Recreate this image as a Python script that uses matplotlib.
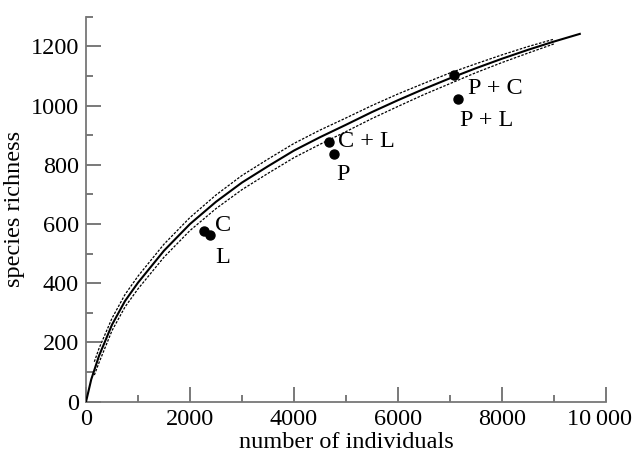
import numpy as np
import matplotlib
matplotlib.use('Agg')
import matplotlib.pyplot as plt
import matplotlib.ticker as ticker
import matplotlib.transforms as mtransforms

plt.rcParams['font.family'] = ['Liberation Serif', 'DejaVu Serif']

# rarefaction curve
n_ind = [0, 100, 250, 500, 750, 1000, 1500, 2000, 2500, 3000, 3500, 4000, 4500,
         5000, 5500, 6000, 6500, 7000, 7500, 8000, 8500, 9000, 9500]
richness = [0, 75, 155, 260, 340, 402, 510, 600, 675, 740, 795, 848, 893,
            935, 978, 1018, 1056, 1092, 1126, 1158, 1188, 1216, 1242]

# confidence band (dotted)
ci_x = [160, 250, 500, 750, 1000, 1500, 2000, 2500, 3000, 3500, 4000, 4500,
        5000, 5500, 6000, 6500, 7000, 7500, 8000, 8500, 9000]
ci_upper = [135, 180, 282, 362, 424, 532, 622, 698, 764, 819, 872, 917,
            958, 1000, 1039, 1075, 1110, 1141, 1171, 1199, 1224]
ci_lower = [90, 132, 240, 320, 381, 488, 578, 652, 716, 771, 824, 869,
            912, 956, 997, 1037, 1074, 1111, 1145, 1177, 1208]

# treatment combinations
labels = ['C', 'L', 'C + L', 'P', 'P + C', 'P + L']
pts_x = [2270, 2385, 4680, 4770, 7080, 7150]
pts_y = [575, 563, 878, 836, 1104, 1023]
# label offsets (points)
lab_dx = [8, 4, 6, 2, 10, 2]
lab_dy = [4, -16, 0, -14.5, -10, -15.5]

fig = plt.figure(figsize=(6.33, 4.58), dpi=100)
ax = fig.add_axes([0.1359, 0.1229, 0.957 - 0.1359, 0.9635 - 0.1229])

ax.plot(n_ind, richness, color='black', lw=1.5, zorder=3)
ax.plot(ci_x, ci_upper, color='black', lw=0.9, ls=(0, (2.0, 1.2)), zorder=2)
ax.plot(ci_x, ci_lower, color='black', lw=0.9, ls=(0, (2.0, 1.2)), zorder=2)
ax.plot(pts_x, pts_y, 'o', color='black', ms=6.5, zorder=4)

for lab, x, y, dx, dy in zip(labels, pts_x, pts_y, lab_dx, lab_dy):
    ax.annotate(lab, (x, y), xytext=(dx, dy), textcoords='offset points',
                fontsize=17.5, ha='left', va='center')

ax.set_xlim(0, 10000)
ax.set_ylim(0, 1300)

for s in ('top', 'right'):
    ax.spines[s].set_visible(False)
for s in ('left', 'bottom'):
    ax.spines[s].set_color('#777777')
    ax.spines[s].set_linewidth(1.3)

ax.xaxis.set_major_locator(ticker.FixedLocator([0, 2000, 4000, 6000, 8000, 10000]))
ax.xaxis.set_minor_locator(ticker.MultipleLocator(1000))
ax.yaxis.set_major_locator(ticker.FixedLocator([0, 200, 400, 600, 800, 1000, 1200]))
ax.yaxis.set_minor_locator(ticker.MultipleLocator(100))

def fmt(x, pos):
    if x >= 10000:
        return '{:,}'.format(int(x)).replace(',', '\u2009')
    return '{:d}'.format(int(x))

ax.xaxis.set_major_formatter(ticker.FuncFormatter(fmt))
ax.tick_params(which='both', direction='in', color='#555555', width=1.1,
               labelsize=17.5)
ax.tick_params(axis='x', pad=5)
ax.tick_params(axis='y', pad=5)
ax.tick_params(which='major', length=10.8)
ax.tick_params(which='minor', length=5)

ax.set_xlabel('number of individuals', fontsize=17.5, labelpad=2)
ax.set_ylabel('species richness', fontsize=17.5, labelpad=4)

# pull the last x label in a little so it stays inside the figure
fig.canvas.draw()
last = ax.xaxis.get_major_ticks()[-1].label1
last.set_transform(last.get_transform() +
                   mtransforms.ScaledTranslation(-6 / 100, 0, fig.dpi_scale_trans))

fig.savefig('out.png', dpi=100)
